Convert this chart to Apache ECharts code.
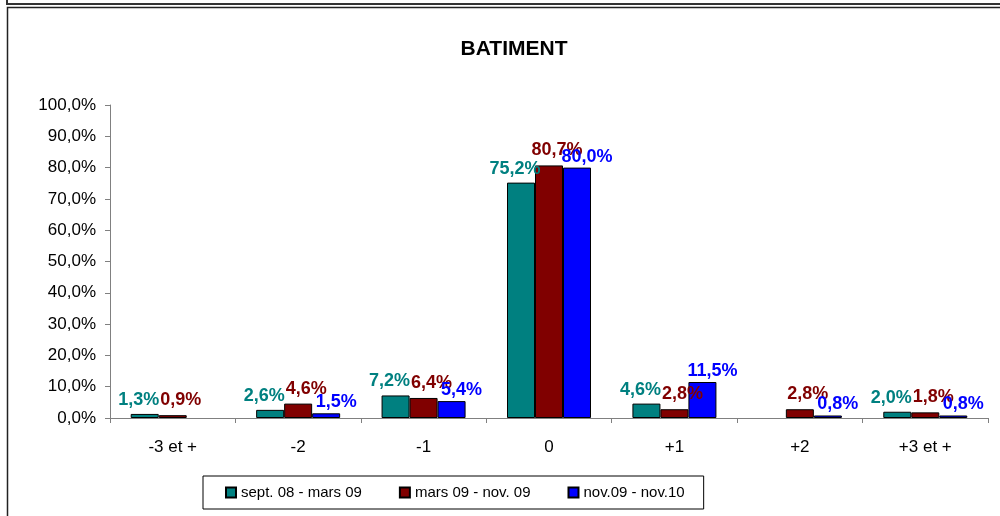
<!DOCTYPE html>
<html>
<head>
<meta charset="utf-8">
<script src="https://cdn.jsdelivr.net/npm/echarts@6/dist/echarts.min.js"></script>
<style>
  html, body { margin: 0; padding: 0; background: #fff; }
  #main { width: 1000px; height: 516px; }
</style>
</head>
<body>
<div id="main"></div>
<script>
// categories (x axis)
var categories = ['-3 et +', '-2', '-1', '0', '+1', '+2', '+3 et +'];
// series names
var seriesNames = ['sept. 08 - mars 09', 'mars 09 - nov. 09', 'nov.09 - nov.10'];
// values in %, null = no bar
var valSept08 = [1.3, 2.6, 7.2, 75.2, 4.6, null, 2.0];
var valMars09 = [0.9, 4.6, 6.4, 80.7, 2.8, 2.8, 1.8];
var valNov09  = [null, 1.5, 5.4, 80.0, 11.5, 0.8, 0.8];
var colors = ['#008080', '#800000', '#0000ff'];

function pct(v) {
    return v.toFixed(1).replace('.', ',') + '%';
}

function makeSerie(i, data, offset) {
    return {
        name: seriesNames[i],
        type: 'bar',
        data: data,
        barWidth: 28,
        barGap: '0%',
        itemStyle: { color: colors[i], borderColor: '#000', borderWidth: 1 },
        label: {
            show: true,
            position: 'top',
            distance: 0,
            offset: offset,
            color: colors[i],
            fontFamily: 'Liberation Sans, Arial',
            fontWeight: 'bold',
            fontSize: 18,
            formatter: function (p) { return pct(p.value); }
        }
    };
}

var myChart = echarts.init(document.getElementById('main'));
var option = {
    animation: false,
    backgroundColor: '#fff',
    textStyle: { fontFamily: 'Liberation Sans, Arial' },
    graphic: [
        { type: 'rect', shape: { x: 7, y: -5, width: 1010, height: 9 }, style: { fill: 'none', stroke: '#333', lineWidth: 2 } },
        { type: 'rect', shape: { x: 7.5, y: 7.5, width: 1010, height: 520 }, style: { fill: 'none', stroke: '#222', lineWidth: 1.5 } }
    ],
    title: {
        text: 'BATIMENT',
        left: 509,
        top: 34,
        textAlign: 'center',
        textStyle: { fontSize: 21, fontWeight: 'bold', color: '#000', fontFamily: 'Liberation Sans, Arial' }
    },
    legend: {
        data: seriesNames,
        left: 203,
        top: 476,
        orient: 'horizontal',
        icon: 'rect',
        itemWidth: 10,
        itemHeight: 10,
        itemGap: 37,
        padding: [9, 19, 9, 22],
        borderColor: '#000',
        borderWidth: 1,
        textStyle: { fontSize: 15, color: '#000', fontFamily: 'Liberation Sans, Arial' }
    },
    grid: { left: 110, right: 12, top: 105, bottom: 98, containLabel: false },
    xAxis: {
        type: 'category',
        data: categories,
        axisLine: { lineStyle: { color: '#808080' } },
        axisTick: { show: true, length: 5, lineStyle: { color: '#808080' } },
        axisLabel: { color: '#000', fontSize: 17, margin: 21 }
    },
    yAxis: {
        type: 'value',
        min: 0,
        max: 100,
        interval: 10,
        axisLine: { show: true, lineStyle: { color: '#808080' } },
        axisTick: { show: true, length: 5, lineStyle: { color: '#808080' } },
        splitLine: { show: false },
        axisLabel: { color: '#000', fontSize: 17, margin: 14, formatter: function (v) { return pct(v); } }
    },
    series: [
        makeSerie(0, valSept08, [-6, -5]),
        makeSerie(1, valMars09, [8, -6]),
        makeSerie(2, valNov09, [10, -2])
    ]
};
myChart.setOption(option);
</script>
</body>
</html>
